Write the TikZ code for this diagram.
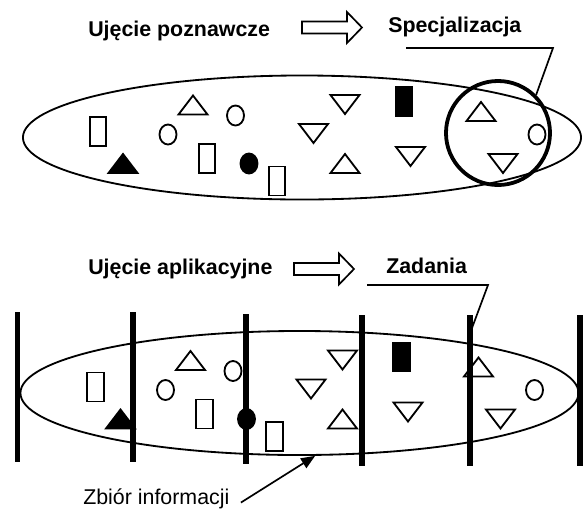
\documentclass[tikz,border=0pt]{standalone}
\usepackage{fontspec}
\setmainfont{Liberation Sans}
\usetikzlibrary{shapes.geometric,arrows.meta}

\tikzset{
  title/.style={font=\fontsize{15.2}{18}\selectfont\bfseries, inner sep=0pt, anchor=base west},
  pool/.style={ellipse, draw, line width=1.3pt, inner sep=0pt, minimum width=13.95cm, minimum height=3.1cm},
  cluster/.style={circle, draw, line width=2.7pt, inner sep=0pt, minimum size=2.6cm},
  leader/.style={line width=1.2pt},
  divider/.style={line width=3.9pt},
  shape line/.style={line width=1.3pt},
  box/.pic={\draw[shape line,pic actions] (-8.25,-14.5) rectangle (8.25,14.5);},
  oval/.pic={\draw[shape line,pic actions] (0,0) ellipse [x radius=8.5,y radius=10];},
  tri up/.pic={\draw[shape line,pic actions] (-14.5,9.5) -- (14.5,9.5) -- (0,-9.5) -- cycle;},
  tri down/.pic={\draw[shape line,pic actions] (-14.5,-9.5) -- (14.5,-9.5) -- (0,9.5) -- cycle;},
  hollow arrow/.pic={\draw[line width=1.2pt] (0,-6) -- (45,-6) -- (45,-15.5) -- (60,0)
    -- (45,15.5) -- (45,6) -- (0,6) -- cycle;}
}

% the same set of pieces, around the centre of a pool
\newcommand{\infocloud}{%
  \pic at (-204,-6) {box};
  \pic[fill=black] at (-179,26) {tri up};
  \pic at (-109,-32.5) {tri up};
  \pic at (-66.5,-22) {oval};
  \pic at (-134,-3) {oval};
  \pic at (-95,21) {box};
  \pic[fill=black] at (-53,26) {oval};
  \pic at (-25,43.5) {box};
  \pic at (43,-33) {tri down};
  \pic at (11.5,-4) {tri down};
  \pic at (43,26) {tri up};
  \pic[fill=black] at (102,-36) {box};
  \pic at (108.5,19) {tri down};
  \pic at (179,-26) {tri up};
  \pic at (235,-3) {oval};
  \pic at (201,26) {tri down};
}

\begin{document}
\begin{tikzpicture}[x=0.025cm,y=-0.025cm]
\useasboundingbox (0,0) rectangle (586,508);

% upper part
\node[title] (headA) at (88,36) {Ujęcie poznawcze};
\pic at (302,27.5) {hollow arrow};
\node[title] (spec) at (388,32) {Specjalizacja};
\begin{scope}[shift={(302,137.5)}]
  \node[pool] (poolA) at (0,0) {};
  \infocloud
  \node[cluster] (group) at (196,-4.5) {};
\end{scope}
\coordinate (specA) at (406,48);
\coordinate (specB) at (553,48);
\draw[leader] (specA) -- (specB) -- (group.45);

% lower part
\node[title] (headB) at (88,274) {Ujęcie aplikacyjne};
\pic at (294,269) {hollow arrow};
\node[title] (task) at (386,273) {Zadania};
\begin{scope}[shift={(299.5,393)}]
  \node[pool] (poolB) at (0,0) {};
  \infocloud
\end{scope}
\foreach \x/\ya/\yb in {17.5/312/462, 133/312/462, 246/314/464, 362/315/466, 470/315/466, 580/315/466}
  \draw[divider] (\x,\ya) -- (\x,\yb);
\coordinate (taskA) at (367,285);
\coordinate (taskB) at (488,285);
\coordinate (taskC) at (472,328);
\draw[leader] (taskA) -- (taskB) -- (taskC);

\node[anchor=base west, inner sep=0pt, font=\fontsize{15.2}{18}\selectfont] (info) at (83,504) {Zbiór informacji};
\draw[leader, -{Triangle[length=10pt,width=8pt]}] ([xshift=8pt,yshift=-3pt]info.east) -- (poolB.-76);

\end{tikzpicture}
\end{document}
